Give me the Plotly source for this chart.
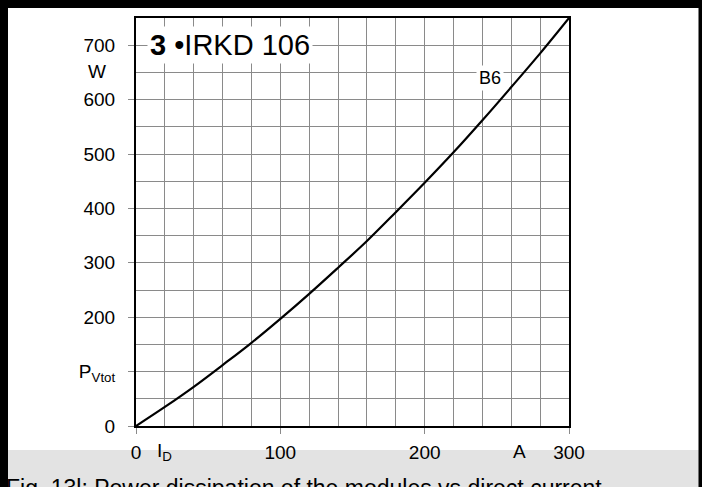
import plotly.graph_objects as go

# ---- data ----
current_A = [0, 20, 40, 60, 80, 100, 120, 140, 160, 180, 200, 220, 240, 260, 280, 300]
power_W = [0, 35, 72, 112, 153, 197, 243, 291, 340, 393, 447, 503, 562, 623, 685, 750]

x_tickvals = [0, 100, 200, 300]
x_ticktext = ["0", "100", "200", "300"]
y_tickvals = [0, 100, 200, 300, 400, 500, 600, 700]
y_ticktext = ["0", "P<sub>Vtot</sub>", "200", "300", "400", "500", "600", "700"]

title_text = "<b>3</b> •IRKD 106"
curve_label = "B6"
caption_text = "Fig. 13l: Power dissipation of the modules vs direct current"

W, H = 702, 487
L, R, T, B = 136, 133, 18, 61
PW, PH = W - L - R, H - T - B


def px(p):
    return (p - L) / PW


def py(p):
    return (H - B - p) / PH


FONT = "Liberation Sans, Arial, Helvetica, sans-serif"

fig = go.Figure()
fig.add_trace(go.Scatter(
    x=current_A, y=power_W, mode="lines",
    line=dict(color="black", width=2.2, shape="spline", smoothing=1.0),
    showlegend=False, hoverinfo="skip",
))

grid_col = "#8a8a8a"
fig.update_xaxes(
    range=[0, 300], tickmode="array", tickvals=x_tickvals, ticktext=x_ticktext,
    showgrid=True, gridcolor=grid_col, gridwidth=1,
    minor=dict(tickmode="linear", tick0=0, dtick=20, showgrid=True,
               gridcolor=grid_col, gridwidth=1, ticks=""),
    showline=True, linecolor="black", linewidth=2, mirror=True,
    ticks="outside", ticklen=6, tickcolor=grid_col, tickwidth=1,
    tickfont=dict(family=FONT, size=19, color="black"),
    ticklabelstandoff=2, zeroline=False, fixedrange=True,
)
fig.update_yaxes(
    range=[0, 750], tickmode="array", tickvals=y_tickvals, ticktext=y_ticktext,
    showgrid=True, gridcolor=grid_col, gridwidth=1,
    minor=dict(tickmode="linear", tick0=0, dtick=50, showgrid=True,
               gridcolor=grid_col, gridwidth=1, ticks=""),
    showline=True, linecolor="black", linewidth=2, mirror=True,
    ticks="outside", ticklen=6, tickcolor=grid_col, tickwidth=1,
    tickfont=dict(family=FONT, size=19, color="black"),
    ticklabelstandoff=9, zeroline=False, fixedrange=True,
)

annotations = [
    dict(text=title_text, x=7.5, y=700, xref="x", yref="y", xanchor="left",
         yanchor="middle", showarrow=False, bgcolor="white", borderpad=2,
         font=dict(family=FONT, size=29, color="black")),
    dict(text=curve_label, x=245, y=640, xref="x", yref="y", xanchor="center",
         yanchor="middle", showarrow=False, bgcolor="white", borderpad=2,
         font=dict(family=FONT, size=18, color="black")),
    dict(text="W", x=px(97), y=652, xref="paper", yref="y", xanchor="center",
         yanchor="middle", showarrow=False,
         font=dict(family=FONT, size=19, color="black")),
    dict(text="I<sub>D</sub>", x=20, y=py(452), xref="x", yref="paper",
         xanchor="center", yanchor="middle", showarrow=False,
         font=dict(family=FONT, size=19, color="black")),
    dict(text="A", x=266, y=py(451), xref="x", yref="paper",
         xanchor="center", yanchor="middle", showarrow=False,
         font=dict(family=FONT, size=19, color="black")),
    dict(text=caption_text, x=px(4), y=py(473), xref="paper", yref="paper",
         xanchor="left", yanchor="top", showarrow=False,
         font=dict(family=FONT, size=23, color="black")),
]

shapes = [
    # caption band
    dict(type="rect", xref="paper", yref="paper", x0=px(0), x1=px(W),
         y0=py(H + 5), y1=py(450), fillcolor="#e3e3e3", line=dict(width=0),
         layer="below"),
    # outer frame, left / top / right bars
    dict(type="rect", xref="paper", yref="paper", x0=px(0), x1=px(8),
         y0=py(H), y1=py(0), fillcolor="black", line=dict(width=0)),
    dict(type="rect", xref="paper", yref="paper", x0=px(0), x1=px(W),
         y0=py(8), y1=py(0), fillcolor="black", line=dict(width=0)),
    dict(type="rect", xref="paper", yref="paper", x0=px(698.5), x1=px(W),
         y0=py(H), y1=py(0), fillcolor="black", line=dict(width=0)),
]

fig.update_layout(
    width=W, height=H, margin=dict(l=L, r=R, t=T, b=B, autoexpand=False),
    paper_bgcolor="white", plot_bgcolor="white",
    annotations=annotations, shapes=shapes, showlegend=False,
    font=dict(family=FONT, color="black"),
)

fig.write_html(
    "out.html",
    config={"displayModeBar": False},
    post_script="document.body.style.margin='0px';document.body.style.overflow='hidden';",
)
